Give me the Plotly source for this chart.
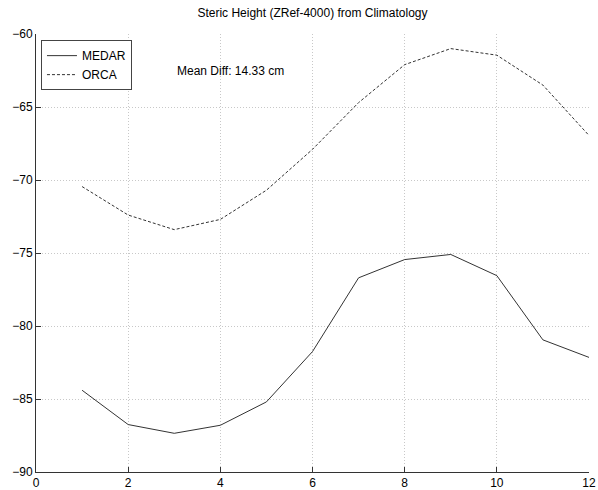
import plotly.graph_objects as go

months = [1, 2, 3, 4, 5, 6, 7, 8, 9, 10, 11, 12]
medar = [-84.4, -86.75, -87.35, -86.8, -85.2, -81.75, -76.7, -75.45, -75.1, -76.55, -80.95, -82.15]
orca = [-70.45, -72.4, -73.4, -72.7, -70.7, -67.9, -64.7, -62.1, -61.0, -61.45, -63.5, -66.95]
x_ticks = [0, 2, 4, 6, 8, 10, 12]
y_ticks = [-90, -85, -80, -75, -70, -65, -60]

font = dict(family="Liberation Sans, Arial, sans-serif", size=12, color="black")

fig = go.Figure()
fig.add_trace(go.Scatter(x=months, y=medar, mode="lines", name="MEDAR",
                         line=dict(color="#333333", width=1)))
fig.add_trace(go.Scatter(x=months, y=orca, mode="lines", name="ORCA",
                         line=dict(color="#333333", width=1, dash="3px,2px")))

fig.add_annotation(x=3.02, y=-62.5, xref="x", yref="y", text="Mean Diff: 14.33 cm",
                   showarrow=False, xanchor="left", yanchor="middle", font=font)

fig.update_layout(
    width=598, height=490,
    margin=dict(l=36, r=9, t=34, b=18, autoexpand=False),
    paper_bgcolor="white", plot_bgcolor="white",
    font=font,
    title=dict(text="Steric Height (ZRef-4000) from Climatology", x=0.5225, xanchor="center",
               y=1 - 13 / 490, yanchor="middle", yref="container", font=dict(size=12)),
    legend=dict(x=0.009, y=0.986, xanchor="left", yanchor="top",
                bordercolor="#444444", borderwidth=1, bgcolor="white",
                font=dict(size=12), tracegroupgap=0),
    showlegend=True,
)
fig.update_xaxes(range=[0, 12], tickvals=x_ticks, ticks="inside", ticklen=5,
                 showline=True, linecolor="#333333", linewidth=1, mirror=False,
                 showgrid=True, gridcolor="#c8c8c8", griddash="1px,2px", gridwidth=1,
                 zeroline=False, tickcolor="#333333", automargin=False)
fig.update_yaxes(range=[-90, -60], tickvals=y_ticks, ticks="inside", ticklen=5,
                 showline=True, linecolor="#333333", linewidth=1, mirror=False,
                 showgrid=True, gridcolor="#c8c8c8", griddash="1px,2px", gridwidth=1,
                 zeroline=False, tickcolor="#333333", automargin=False)

fig.write_html("out.html")
